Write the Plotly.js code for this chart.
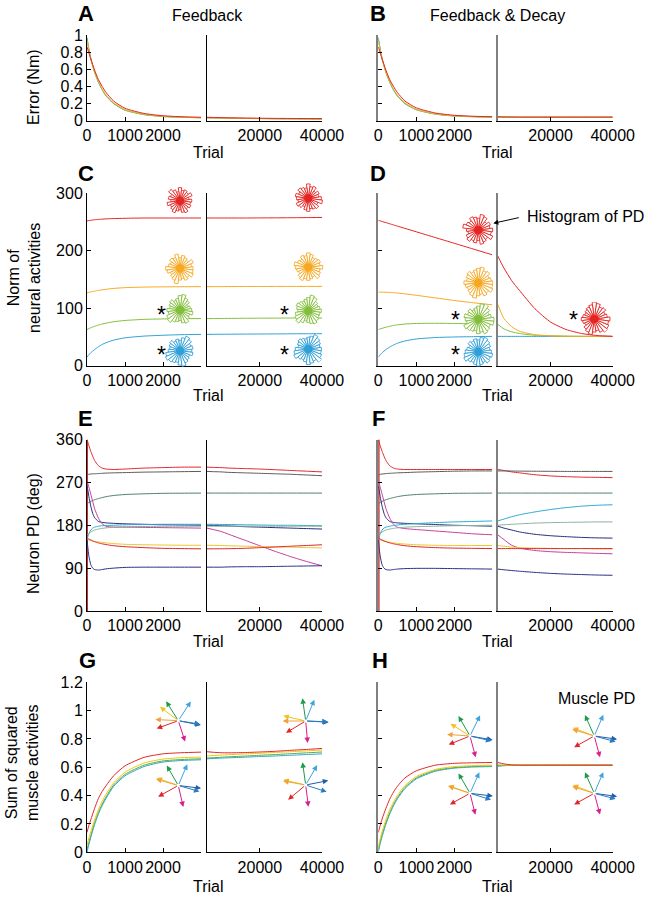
<!DOCTYPE html>
<html><head><meta charset="utf-8">
<script src="https://cdn.plot.ly/plotly-3.0.1.min.js"></script>
<style>html,body{margin:0;padding:0;background:#fff}#plot{width:650px;height:898px}</style>
</head><body><div id="plot"></div>
<script>
// ---------------- DATA ----------------
const trialEarly = [0, 50, 100, 200, 300, 400, 500, 700, 1000, 1500, 2000, 2500, 3000];
const trialEarlyPD = [0, 20, 50, 100, 150, 200, 300, 400, 500, 700, 1000, 1500, 2000, 2500, 3000];
const trialLate = [3000, 5000, 7500, 10000, 15000, 20000, 25000, 30000, 35000, 40000];
const earlyTickVals = [0, 1000, 2000];
const earlyTickText = ['0', '1000', '2000'];
const lateTickVals = [20000, 40000];
const lateTickText = ['20000', '40000'];
const errTicks = [0, 0.2, 0.4, 0.6, 0.8, 1];
const normTicks = [0, 100, 200, 300];
const pdTicks = [0, 90, 180, 270, 360];
const musTicks = [0, 0.2, 0.4, 0.6, 0.8, 1, 1.2];

// series order: blue, green, yellow, red
const errA_early = [
  [0.97, 0.84, 0.73, 0.57, 0.45, 0.36, 0.29, 0.20, 0.125, 0.072, 0.05, 0.04, 0.035],
  [0.95, 0.83, 0.72, 0.56, 0.45, 0.36, 0.29, 0.20, 0.122, 0.07, 0.048, 0.039, 0.034],
  [0.93, 0.82, 0.72, 0.57, 0.46, 0.37, 0.30, 0.21, 0.13, 0.075, 0.052, 0.041, 0.036],
  [0.86, 0.79, 0.72, 0.59, 0.48, 0.40, 0.33, 0.23, 0.145, 0.085, 0.058, 0.046, 0.04]];
const errA_late = [
  [0.035, 0.033, 0.031, 0.029, 0.027, 0.025, 0.023, 0.022, 0.021, 0.02],
  [0.034, 0.032, 0.03, 0.028, 0.026, 0.024, 0.022, 0.021, 0.02, 0.019],
  [0.036, 0.034, 0.032, 0.03, 0.028, 0.026, 0.024, 0.023, 0.022, 0.021],
  [0.04, 0.038, 0.036, 0.034, 0.031, 0.029, 0.027, 0.026, 0.025, 0.024]];
const errB_early = [
  [0.97, 0.84, 0.73, 0.57, 0.45, 0.36, 0.29, 0.20, 0.13, 0.078, 0.056, 0.047, 0.042],
  [0.95, 0.83, 0.72, 0.56, 0.45, 0.36, 0.29, 0.20, 0.127, 0.076, 0.054, 0.046, 0.041],
  [0.93, 0.82, 0.72, 0.57, 0.46, 0.37, 0.30, 0.21, 0.134, 0.08, 0.057, 0.048, 0.043],
  [0.86, 0.79, 0.72, 0.59, 0.48, 0.40, 0.33, 0.23, 0.15, 0.09, 0.063, 0.052, 0.046]];
const errB_late = [
  [0.042, 0.041, 0.04, 0.04, 0.04, 0.04, 0.04, 0.04, 0.04, 0.04],
  [0.041, 0.04, 0.04, 0.04, 0.04, 0.04, 0.04, 0.04, 0.04, 0.04],
  [0.043, 0.042, 0.041, 0.041, 0.041, 0.041, 0.041, 0.041, 0.041, 0.041],
  [0.046, 0.044, 0.043, 0.042, 0.042, 0.042, 0.042, 0.042, 0.042, 0.042]];

const normC_early = [
  [15, 19, 22.5, 28, 33, 37, 40, 44.5, 48.5, 51.5, 53, 54, 54.5],
  [63, 64.5, 66, 68.5, 70.7, 72.5, 74, 76.5, 78.7, 80.6, 81.4, 81.8, 82],
  [127, 127.7, 128.4, 129.7, 131, 132, 133, 134.5, 135.8, 136.8, 137.2, 137.4, 137.5],
  [252, 252.5, 253, 254, 254.5, 255, 255.5, 256, 256.5, 257, 257, 257, 257]];
const normC_late = [
  [54.5, 54.6, 54.7, 54.8, 55, 55.2, 55.3, 55.5, 55.6, 55.7],
  [82, 82, 82.2, 82.3, 82.5, 82.7, 82.8, 83, 83, 83],
  [137.5, 137.6, 137.6, 137.7, 137.8, 137.8, 137.9, 138, 138, 138],
  [257, 257, 257, 257, 257, 257.2, 257.3, 257.5, 257.7, 258]];
const normD_early = [
  [15, 19, 22.5, 28, 32.5, 36, 39, 43, 46.5, 49, 50, 50.5, 51],
  [63, 64, 65, 67, 68.5, 70, 71, 72.5, 73.5, 73.8, 73.5, 72.8, 72],
  [128, 128, 128, 127.8, 127.5, 127, 126.5, 125, 122.5, 118, 113.5, 109.5, 106],
  [253, 252, 251, 249, 247, 245, 243, 239, 233, 223, 213, 203, 193]];
const normD_late = [
  [51, 51, 51, 51, 51, 51, 51, 51, 51, 51],
  [72, 64, 59, 56, 53, 52, 51.3, 51, 51, 51],
  [107, 82, 68, 60, 54, 52, 51.3, 51, 51, 51],
  [191, 170, 148, 131, 99, 76, 63, 56, 52.5, 51]];

// neuron PD series: red1, darkgray, graygreen, navy1, magenta, cyan, sage, yellow, red2, navy2
const pdNames = ['red1', 'darkgray', 'graygreen', 'navy1', 'magenta', 'cyan', 'sage', 'yellow', 'red2', 'navy2'];
const pdE_early = [
  [360, 355, 347, 335, 325, 316, 305, 300, 298, 297, 298, 300, 301, 302, 302],
  [285, 286, 287, 287.5, 288, 288, 288.5, 289, 289.5, 290, 290.5, 291.5, 292, 292.5, 293],
  [225, 226, 228, 230, 232, 233.5, 236, 238, 240, 242.5, 244.5, 246, 247, 247.3, 247.5],
  [262, 255, 240, 220, 205, 196, 188, 186, 185, 184, 183, 182, 181, 180.5, 180],
  [272, 268, 260, 245, 230, 215, 195, 183, 178, 176, 176, 175.5, 175, 174.5, 174],
  [150, 155, 162, 170, 174, 176, 178, 179, 179.5, 180, 181, 181.5, 182, 182, 182],
  [160, 161, 163, 166, 168, 170, 172, 173.5, 174.5, 176, 177, 177.5, 178, 178, 178],
  [150, 150, 149, 148, 147, 146, 145, 144, 143, 141.5, 140, 139, 138.5, 138, 138],
  [153, 152, 151, 149, 147, 145.5, 143, 141, 139.5, 137, 135, 133, 131.5, 131, 130.5],
  [150, 135, 115, 97, 90, 87, 86, 87, 88.5, 90, 91.5, 92, 92, 92, 92]];
const pdE_late = [
  [302, 301.5, 301, 300, 299, 298, 296.5, 295, 293.5, 292],
  [293, 292.5, 292, 291, 290, 289, 288, 287, 285.5, 284],
  [247.5, 247.5, 247.5, 247.5, 247.5, 247.5, 247.5, 247.5, 247.5, 247.5],
  [180, 179.5, 179, 178.5, 177, 176, 175, 174, 173, 172],
  [174, 171, 167, 161, 149, 137, 125, 114, 104, 95],
  [182, 182, 181.5, 181.5, 181, 180.5, 180, 180, 179.5, 179],
  [178, 178, 178, 178, 178, 178, 178, 178, 178, 178],
  [138, 137.8, 137.5, 137, 136, 135, 134.5, 134, 133, 132.5],
  [130.5, 130.5, 130.6, 130.8, 131.5, 133, 134.5, 136, 137.5, 139],
  [92, 92, 92, 92.5, 93, 93, 93.5, 94, 94.5, 95]];
const pdF_early = [
  [360, 355, 347, 335, 325, 316, 305, 300, 298, 297, 297, 297, 297, 297, 297],
  [285, 286, 287, 287.5, 288, 288.5, 289, 289.5, 290, 290.5, 291.5, 292.5, 293.5, 294, 294],
  [225, 226, 228, 230, 232, 233.5, 236, 238, 240, 242.5, 244.5, 246, 247, 247.3, 247.5],
  [262, 255, 240, 220, 205, 196, 188, 186, 185, 184, 183, 181.5, 180, 179, 178],
  [272, 268, 260, 245, 230, 215, 195, 182, 176, 173, 171, 168, 165, 162, 160],
  [150, 155, 162, 170, 174, 176, 178, 179.5, 180.5, 182, 183.5, 185.5, 187, 188, 189],
  [160, 161, 163, 166, 168, 170, 172, 173.5, 174.5, 176, 177, 178, 179, 179.5, 180],
  [150, 150, 149, 148, 147, 146, 144.5, 143, 142, 140.5, 139, 138, 137.5, 137.5, 137.5],
  [153, 152, 151, 149, 147, 145.5, 143, 141, 139.5, 137, 135, 133, 132, 131.5, 131],
  [150, 135, 115, 97, 90, 87, 86, 87, 88, 89, 89.5, 89.5, 89, 88.5, 88]];
const pdF_late = [
  [297, 295, 292, 290, 286, 283.5, 282, 281, 280.5, 280],
  [294, 294, 293.8, 293.6, 293.4, 293.2, 293, 293, 293, 293],
  [247.5, 247.5, 247.5, 247.5, 247.5, 247.5, 247.5, 247.5, 247.5, 247.5],
  [178, 174, 170, 166, 161, 158, 156, 154.5, 153.5, 153],
  [160, 150, 138, 132, 127, 124.5, 123, 122, 121, 120],
  [189, 193, 198, 202, 208, 213, 217, 220, 222, 223],
  [180, 181, 182, 183, 184.5, 185.5, 186, 186.5, 187, 187],
  [137.5, 136, 134, 133, 132, 131.5, 131, 131, 130.5, 130.5],
  [131, 131, 131, 131, 131, 131, 131, 131, 131, 131],
  [88, 86.5, 85, 83.5, 81, 79, 77.5, 76.5, 75.5, 75]];
// PD wraps around at the first trial (0 -> 360 deg)
const pdWrapTrial = [0, 0];
const pdWrapValue = [0, 360];

const musG_early = [
  [0.0, 0.055, 0.105, 0.195, 0.27, 0.33, 0.38, 0.465, 0.54, 0.605, 0.637, 0.648, 0.653],
  [0.02, 0.07, 0.12, 0.21, 0.28, 0.34, 0.39, 0.475, 0.55, 0.615, 0.645, 0.655, 0.66],
  [0.05, 0.1, 0.145, 0.23, 0.3, 0.36, 0.41, 0.49, 0.565, 0.63, 0.658, 0.668, 0.672],
  [0.14, 0.19, 0.23, 0.31, 0.38, 0.43, 0.47, 0.54, 0.61, 0.67, 0.695, 0.703, 0.707]];
const musG_late = [
  [0.66, 0.662, 0.665, 0.667, 0.671, 0.676, 0.68, 0.685, 0.69, 0.695],
  [0.665, 0.668, 0.671, 0.674, 0.679, 0.685, 0.69, 0.696, 0.702, 0.708],
  [0.68, 0.683, 0.686, 0.689, 0.694, 0.699, 0.705, 0.71, 0.716, 0.722],
  [0.71, 0.706, 0.703, 0.702, 0.704, 0.708, 0.713, 0.72, 0.726, 0.733]];
const musH_early = [
  [0.0, 0.06, 0.11, 0.198, 0.27, 0.328, 0.376, 0.45, 0.518, 0.572, 0.594, 0.602, 0.605],
  [0.02, 0.075, 0.125, 0.21, 0.28, 0.338, 0.385, 0.458, 0.525, 0.578, 0.598, 0.606, 0.609],
  [0.04, 0.095, 0.145, 0.23, 0.3, 0.355, 0.4, 0.47, 0.535, 0.585, 0.605, 0.612, 0.615],
  [0.14, 0.19, 0.235, 0.31, 0.375, 0.425, 0.465, 0.525, 0.575, 0.615, 0.628, 0.632, 0.634]];
const musH_late = [
  [0.607, 0.611, 0.614, 0.615, 0.615, 0.615, 0.615, 0.615, 0.615, 0.615],
  [0.612, 0.614, 0.615, 0.615, 0.615, 0.615, 0.615, 0.615, 0.615, 0.615],
  [0.618, 0.616, 0.615, 0.615, 0.615, 0.615, 0.615, 0.615, 0.615, 0.615],
  [0.634, 0.624, 0.617, 0.615, 0.615, 0.615, 0.615, 0.615, 0.615, 0.615]];

// Rose histograms of neuron PD (24 bins of 15 deg, counts)
const roseBins = [0, 15, 30, 45, 60, 75, 90, 105, 120, 135, 150, 165, 180, 195, 210, 225, 240, 255, 270, 285, 300, 315, 330, 345];
const roseC_red_e    = [9, 7, 10, 8, 9, 8, 10, 7, 9, 11, 8, 9, 7, 10, 8, 9, 10, 8, 7, 9, 10, 8, 9, 8];
const roseC_orange_e = [10, 9, 11, 8, 9, 10, 8, 11, 9, 10, 8, 9, 11, 10, 8, 9, 10, 12, 9, 8, 10, 9, 11, 10];
const roseC_green_e  = [9, 8, 7, 9, 10, 12, 11, 9, 8, 10, 9, 8, 10, 9, 11, 12, 10, 9, 8, 10, 11, 9, 8, 10];
const roseC_blue_e   = [9, 10, 9, 11, 12, 10, 8, 9, 8, 10, 9, 8, 9, 11, 12, 11, 10, 9, 11, 12, 10, 9, 8, 10];
const roseC_red_l    = [10, 8, 9, 7, 10, 9, 11, 8, 9, 10, 8, 10, 9, 8, 10, 9, 7, 9, 10, 8, 9, 10, 8, 11];
const roseC_orange_l = [11, 9, 10, 9, 8, 10, 11, 9, 10, 8, 9, 11, 10, 9, 8, 10, 11, 9, 10, 9, 8, 11, 10, 9];
const roseC_green_l  = [10, 9, 8, 9, 11, 12, 10, 9, 8, 9, 10, 9, 8, 10, 11, 12, 10, 8, 9, 10, 11, 10, 9, 9];
const roseC_blue_l   = [10, 9, 10, 11, 12, 10, 9, 8, 9, 10, 9, 8, 10, 11, 12, 10, 9, 10, 12, 11, 10, 13, 11, 10];
const roseD_red_e    = [11, 9, 10, 8, 11, 12, 9, 10, 11, 9, 10, 12, 9, 8, 10, 11, 9, 10, 8, 11, 10, 9, 12, 10];
const roseD_orange_e = [11, 10, 9, 11, 10, 12, 11, 10, 9, 11, 10, 9, 11, 10, 9, 10, 11, 12, 10, 9, 11, 10, 12, 11];
const roseD_green_e  = [12, 10, 9, 11, 13, 12, 10, 9, 8, 10, 9, 11, 10, 9, 12, 11, 10, 9, 11, 10, 12, 11, 10, 12];
const roseD_blue_e   = [10, 9, 10, 11, 12, 11, 9, 10, 9, 10, 8, 9, 10, 11, 12, 10, 9, 10, 11, 10, 9, 11, 10, 11];
const roseD_red_l    = [12, 10, 9, 11, 10, 12, 13, 11, 10, 9, 8, 9, 10, 9, 8, 10, 11, 12, 10, 9, 11, 13, 12, 11];

// Muscle PDs (deg, counter-clockwise from +x) and arrow lengths (px); colours per muscle
const muscleColors = ['#1e9a4b', '#3fa3dc', '#f3c21c', '#f0a33a', '#e1262b', '#d81f8a', '#1f5ea8', '#2a7cc4'];
const musG_e_up_ang  = [122, 57, 143, 177, 200, 288, 349, 351];
const musG_e_lo_ang  = [120, 67, 161, 164, 209, 283, 353, 344];
const musG_l_up_ang  = [98, 68, 167, 180, 211, 275, 357, 358];
const musG_l_lo_ang  = [98, 60, 167, 170, 220, 277, 11, 342];
const musH_e_up_ang  = [120, 64, 148, 176, 202, 285, 350, 347];
const musH_e_lo_ang  = [120, 66, 160, 162, 209, 284, 353, 343];
const musH_l_up_ang  = [114, 67, 159, 163, 209, 285, 352, 345];
const musH_l_lo_ang  = [114, 67, 159, 163, 209, 285, 352, 345];
const musArrowLen    = [23, 23, 23, 23, 23, 22, 23, 22];

// ---------------- LAYOUT / DRAWING ----------------
const W = 650, H = 898;
const FONT = 'Liberation Sans, Arial, Helvetica, sans-serif';
const TF = 16;
const colX = [{e: [87, 201], l: [207, 322]}, {e: [378.3, 492.3], l: [497.7, 612.7]}];
const rowY = [[35, 120.7], [193.3, 365.7], [439.5, 611], [682.3, 852.3]];
const yRanges = [[0, 1], [0, 300], [0, 360], [0, 1.2]];
const yTicks = [errTicks, normTicks, pdTicks, musTicks];

const col4AB = ['#2f9fd8', '#82c341', '#f2b531', '#e42522'];
const col4CD = ['#2f9fd8', '#82be3c', '#f6a822', '#e42522'];
const col4GH = ['#37a3cc', '#4cb050', '#f2c40f', '#e42522'];
const pdColors = ['#e3262b', '#5a5a5a', '#4f7f6f', '#262b7c', '#c43f9c', '#2aa9d6', '#8ab09a', '#f2c526', '#d9262a', '#2b2e88'];

const px = (x) => x / W;
const py = (y) => 1 - y / H;

const traces = [];
const layout = {
  width: W, height: H, margin: {l: 0, r: 0, t: 0, b: 0},
  paper_bgcolor: '#fff', plot_bgcolor: 'rgba(0,0,0,0)',
  showlegend: false, font: {family: FONT, size: TF, color: '#000'},
  annotations: []
};

function ax(p, i) { return i === 1 ? p + 'axis' : p + 'axis' + i; }
function ref(p, i) { return i === 1 ? p : p + i; }

for (let r = 0; r < 4; r++) for (let c = 0; c < 2; c++) for (let s = 0; s < 2; s++) {
  const idx = r * 4 + c * 2 + s + 1;
  const xr = s ? colX[c].l : colX[c].e;
  layout[ax('x', idx)] = {
    domain: [px(xr[0]), px(xr[1])], anchor: ref('y', idx),
    range: s ? [3000, 40000] : [0, 3000],
    tickvals: s ? lateTickVals : earlyTickVals, ticktext: s ? lateTickText : earlyTickText,
    tickangle: 0, automargin: false,
    ticks: 'inside', ticklen: 4, tickcolor: '#000', tickwidth: 1,
    showline: true, linecolor: '#000', linewidth: 1,
    showgrid: false, zeroline: false, fixedrange: true,
    tickfont: {size: TF, family: FONT, color: '#000'}
  };
  layout[ax('y', idx)] = {
    domain: [py(rowY[r][1]), py(rowY[r][0])], anchor: ref('x', idx),
    range: yRanges[r], tickvals: yTicks[r], ticktext: yTicks[r].map(String),
    tickangle: 0, automargin: false,
    ticks: s ? '' : 'inside', ticklen: 4, tickcolor: '#000', tickwidth: 1,
    showticklabels: (c === 0 && s === 0),
    showline: true, linecolor: c ? '#808080' : '#000', linewidth: c ? 2 : 1,
    showgrid: false, zeroline: false, fixedrange: true,
    tickfont: {size: TF, family: FONT, color: '#000'}
  };
}

function addSeries(idx, t, arr, colors, width) {
  arr.forEach((v, i) => traces.push({
    type: 'scatter', mode: 'lines', x: t, y: v,
    xaxis: ref('x', idx), yaxis: ref('y', idx),
    line: {color: colors[i], width: width || 1, shape: 'spline', smoothing: 0.6},
    hoverinfo: 'skip', showlegend: false, cliponaxis: true
  }));
}
addSeries(1, trialEarly, errA_early, col4AB);
addSeries(2, trialLate, errA_late, col4AB);
addSeries(3, trialEarly, errB_early, col4AB);
addSeries(4, trialLate, errB_late, col4AB);
addSeries(5, trialEarly, normC_early, col4CD);
addSeries(6, trialLate, normC_late, col4CD);
addSeries(7, trialEarly, normD_early, col4CD);
addSeries(8, trialLate, normD_late, col4CD);
traces.push({type: 'scatter', mode: 'lines', x: pdWrapTrial, y: pdWrapValue, xaxis: 'x9', yaxis: 'y9', line: {color: '#e3262b', width: 2}, hoverinfo: 'skip'});
traces.push({type: 'scatter', mode: 'lines', x: pdWrapTrial, y: pdWrapValue, xaxis: 'x11', yaxis: 'y11', line: {color: '#b4231f', width: 2.5}, hoverinfo: 'skip'});
addSeries(9, trialEarlyPD, pdE_early, pdColors);
addSeries(10, trialLate, pdE_late, pdColors);
addSeries(11, trialEarlyPD, pdF_early, pdColors);
addSeries(12, trialLate, pdF_late, pdColors);
addSeries(13, trialEarly, musG_early, col4GH);
addSeries(14, trialLate, musG_late, col4GH);
addSeries(15, trialEarly, musH_early, col4GH);
addSeries(16, trialLate, musH_late, col4GH);

// rose glyphs
const roses = [
  [roseC_red_e, '#e42522', 180, 200.7], [roseC_orange_e, '#f6a822', 180, 268.3],
  [roseC_green_e, '#82be3c', 180, 310], [roseC_blue_e, '#2f9fd8', 180, 350.7],
  [roseC_red_l, '#e42522', 308.3, 198.3], [roseC_orange_l, '#f6a822', 308.3, 267.3],
  [roseC_green_l, '#82be3c', 308.3, 310.7], [roseC_blue_l, '#2f9fd8', 308.3, 349],
  [roseD_red_e, '#e42522', 478.3, 230], [roseD_orange_e, '#f6a822', 478.3, 282.7],
  [roseD_green_e, '#82be3c', 478.3, 319.3], [roseD_blue_e, '#2f9fd8', 478.3, 351.7],
  [roseD_red_l, '#e42522', 594.3, 319]
];
const R = 17;
roses.forEach((g, k) => {
  const name = k === 0 ? 'polar' : 'polar' + (k + 1);
  const [counts, color, cx, cy] = g;
  layout[name] = {
    domain: {x: [px(cx - R), px(cx + R)], y: [py(cy + R), py(cy - R)]},
    bgcolor: 'rgba(0,0,0,0)',
    radialaxis: {visible: false, range: [0, 13]},
    angularaxis: {visible: false}
  };
  traces.push({type: 'barpolar', r: counts, theta: roseBins, width: 15, subplot: name,
    marker: {color: '#ffffff', line: {color: color, width: 0.9}}, hoverinfo: 'skip'});
  traces.push({type: 'scatterpolar', r: [0], theta: [0], mode: 'markers', subplot: name,
    marker: {color: color, size: 8}, hoverinfo: 'skip'});
});

// muscle PD arrow glyphs
const arrowGroups = [
  [musG_e_up_ang, 178.3, 720.7], [musG_e_lo_ang, 178.3, 785.5],
  [musG_l_up_ang, 305.7, 721], [musG_l_lo_ang, 305.7, 785],
  [musH_e_up_ang, 470, 736], [musH_e_lo_ang, 470, 793.3],
  [musH_l_up_ang, 594.3, 736], [musH_l_lo_ang, 594.3, 793.3]
];
arrowGroups.forEach(([angs, cx, cy]) => {
  angs.forEach((a, i) => {
    const L = musArrowLen[i];
    const dx = L * Math.cos(a * Math.PI / 180), dy = -L * Math.sin(a * Math.PI / 180);
    layout.annotations.push({
      xref: 'paper', yref: 'paper', x: px(cx + dx), y: py(cy + dy),
      ax: -dx, ay: -dy, axref: 'pixel', ayref: 'pixel', text: '', showarrow: true,
      arrowhead: 2, arrowsize: 1.1, arrowwidth: 1, arrowcolor: muscleColors[i], standoff: 0, startstandoff: 0
    });
  });
});

function txt(t, x, y, opts) {
  layout.annotations.push(Object.assign({
    xref: 'paper', yref: 'paper', x: px(x), y: py(y), text: t, showarrow: false,
    xanchor: 'center', yanchor: 'middle', font: {family: FONT, size: 16, color: '#000'}
  }, opts || {}));
}
// panel letters
[['A', 85.5, 14], ['B', 378, 14], ['C', 85.5, 173], ['D', 378, 173], ['E', 85, 419], ['F', 378, 419], ['G', 87, 660], ['H', 380, 660]]
  .forEach(([t, x, y]) => txt('<b>' + t + '</b>', x, y, {font: {family: FONT, size: 22, color: '#000'}}));
txt('Feedback', 207.5, 15, {font: {family: FONT, size: 16, color: '#000'}});
txt('Feedback &amp; Decay', 497, 15, {font: {family: FONT, size: 16, color: '#000'}});
txt('Muscle PD', 596.5, 698.5, {font: {family: FONT, size: 16, color: '#000'}});
txt('Histogram of PD', 525, 216.5, {xanchor: 'left', font: {family: FONT, size: 16, color: '#000'}});
layout.annotations.push({xref: 'paper', yref: 'paper', x: px(493.3), y: py(223.3), ax: 27, ay: -6,
  axref: 'pixel', ayref: 'pixel', text: '', showarrow: true, arrowhead: 2, arrowsize: 1, arrowwidth: 1, arrowcolor: '#000', standoff: 0});
// Trial labels
[152, 396, 641, 886.5].forEach((y) => {
  txt('Trial', 208, y); txt('Trial', 497, y);
});
// y axis titles
txt('Error (Nm)', 33, 87, {textangle: -90});
txt('Norm of<br>neural activities', 24, 278, {textangle: -90});
txt('Neuron PD (deg)', 33, 534, {textangle: -90});
txt('Sum of squared<br>muscle activities', 22, 763, {textangle: -90});
// asterisks
[[161.7, 310.7], [161.7, 350.7], [284.3, 310.7], [284.3, 350.7], [455.7, 316], [455.7, 350.7], [573.3, 316]]
  .forEach(([x, y]) => txt('*', x, y + 4, {font: {family: FONT, size: 23, color: '#000'}}));

Plotly.newPlot('plot', traces, layout, {staticPlot: true, displayModeBar: false});
</script>
</body></html>
